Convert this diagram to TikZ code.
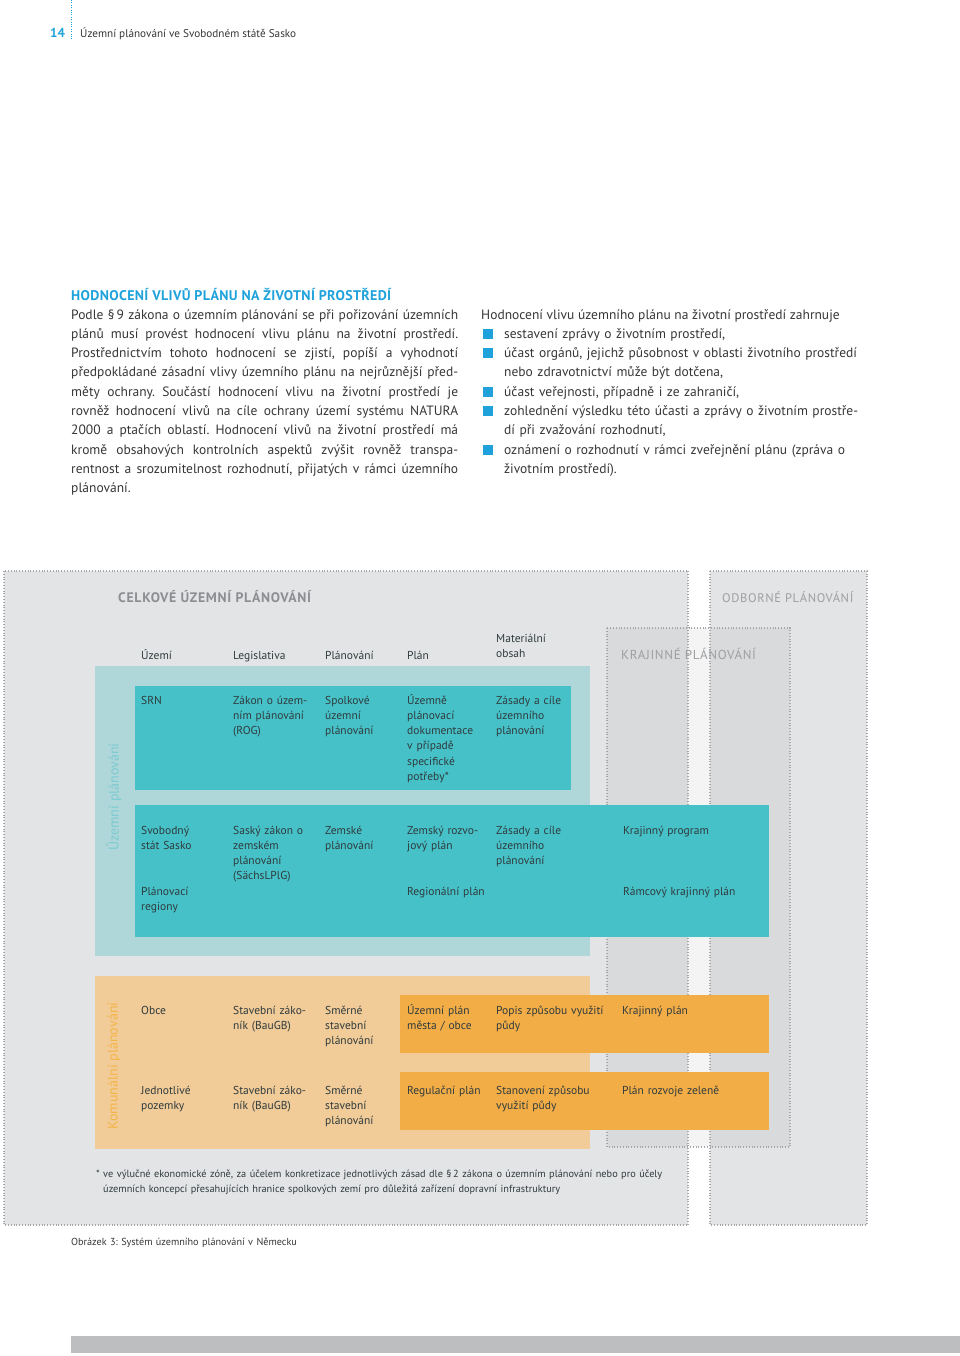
\documentclass[tikz,border=0pt]{standalone}
\usepackage{fontspec}
\setmainfont{PT Sans}
\frenchspacing
\definecolor{cyanhd}{HTML}{1FA2DB}
\definecolor{bodytxt}{HTML}{363636}
\definecolor{boxgrey}{HTML}{E3E4E6}
\definecolor{dotgrey}{HTML}{A5A7AA}
\definecolor{titlegrey}{HTML}{8C8E91}
\definecolor{tealpale}{HTML}{AFD6D8}
\definecolor{tealdark}{HTML}{47C1C8}
\definecolor{tealtxt}{HTML}{7CCBD2}
\definecolor{orpale}{HTML}{F1CB98}
\definecolor{ordark}{HTML}{F3AD47}
\definecolor{ortxt}{HTML}{F4B548}
\definecolor{celltxt}{HTML}{2F3B3D}
\definecolor{barbg}{HTML}{BCBEC0}
\tikzset{
  dotline/.style={draw=dotgrey, line width=1.1pt, dash pattern=on 0.9pt off 1.9pt},
  cell/.style={anchor=base west, text width=130pt, align=left, inner sep=0pt, text=celltxt,
    font=\fontsize{11.5}{15.3}\selectfont},
  bodytext/.style={anchor=base west, inner sep=0pt, text=bodytxt,
    font=\fontsize{13.5}{19.3}\selectfont},
  areatitle/.style={anchor=base west, inner sep=0pt, text=titlegrey,
    font=\fontsize{13}{15}\selectfont\addfontfeatures{LetterSpace=5}},
  sidelabel/.style={rotate=90, inner sep=0pt, font=\fontsize{14}{16}\selectfont}
}
\begin{document}
\begin{tikzpicture}[x=1pt,y=-1pt]
  \useasboundingbox (0,0) rectangle (960,1356);
  \draw[draw=cyanhd, line width=1pt, dash pattern=on 0.8pt off 1.6pt] (71,0) -- (71,40);
  \node[anchor=base west, inner sep=0pt, text=cyanhd, font=\fontsize{13}{15}\selectfont\bfseries] (pageno) at (50,38) {14};
  \node[anchor=base west, inner sep=0pt, text=bodytxt, font=\fontsize{11.2}{13}\selectfont] (running) at (80,38) {Územní plánování ve Svobodném státě Sasko};

  \node[anchor=base west, inner sep=0pt, text=cyanhd, font=\fontsize{14}{16}\selectfont\bfseries\addfontfeatures{LetterSpace=2.5}] (heading) at (71,300) {HODNOCENÍ VLIVŮ PLÁNU NA ŽIVOTNÍ PROSTŘEDÍ};
  \node[bodytext, text width=387pt, align=justify] (para) at (71,319) {\hyphenpenalty=10000\tolerance=10000\emergencystretch=0pt
    Podle §\,9 zákona o územním plánování se při pořizování územních\linebreak
    plánů musí provést hodnocení vlivu plánu na životní prostředí.\linebreak
    Prostřednictvím tohoto hodnocení se zjistí, popíší a vyhodnotí\linebreak
    předpokládané zásadní vlivy územního plánu na nejrůznější před-\linebreak
    měty ochrany. Součástí hodnocení vlivu na životní prostředí je\linebreak
    rovněž hodnocení vlivů na cíle ochrany území systému NATURA\linebreak
    2000 a ptačích oblastí. Hodnocení vlivů na životní prostředí má\linebreak
    kromě obsahových kontrolních aspektů zvýšit rovněž transpa-\linebreak
    rentnost a srozumitelnost rozhodnutí, přijatých v rámci územního\linebreak
    plánování.};

  \node[bodytext] (intro) at (481,319) {Hodnocení vlivu územního plánu na životní prostředí zahrnuje};
  \foreach \i/\yy in {1/334,2/353,3/392,4/411,5/450}
    \node[fill=cyanhd, minimum size=9.5pt, inner sep=0pt] (sq\i) at (488,\yy) {};
  \node[bodytext, text width=380pt, align=left] (item1) at (504,338) {sestavení zprávy o životním prostředí,};
  \node[bodytext, text width=380pt, align=left] (item2) at (504,357) {účast orgánů, jejichž působnost v oblasti životního prostředí\\nebo zdravotnictví může být dotčena,};
  \node[bodytext, text width=380pt, align=left] (item3) at (504,396) {účast veřejnosti, případně i ze zahraničí,};
  \node[bodytext, text width=380pt, align=left] (item4) at (504,415) {zohlednění výsledku této účasti a zprávy o životním prostře-\\dí při zvažování rozhodnutí,};
  \node[bodytext, text width=380pt, align=left] (item5) at (504,454) {oznámení o rozhodnutí v rámci zveřejnění plánu (zpráva o\\životním prostředí).};

  \fill[boxgrey] (4,571) rectangle (688,1225);
  \fill[boxgrey] (710,571) rectangle (867,1225);
  \fill[black, opacity=0.045] (607,628) rectangle (790,1147);
  \draw[dotline] (4,571) rectangle (688,1225);
  \draw[dotline] (710,571) rectangle (867,1225);
  \draw[dotline] (607,628) rectangle (790,1147);

  \node[areatitle, font=\fontsize{13.8}{15}\selectfont\bfseries\addfontfeatures{LetterSpace=5}] (celkove) at (118,602) {CELKOVÉ ÚZEMNÍ PLÁNOVÁNÍ};
  \node[areatitle, text=titlegrey!85, font=\fontsize{12.5}{15}\selectfont\addfontfeatures{LetterSpace=5}] (odborne) at (722,602) {ODBORNÉ PLÁNOVÁNÍ};
  \node[areatitle, text=titlegrey!85] (krajinne) at (621,659) {KRAJINNÉ PLÁNOVÁNÍ};

  \foreach \nm/\xx/\yy/\tx in {uzemi/141/659/Území, legis/233/659/Legislativa, planovani/325/659/Plánování, plan/407/659/Plán, obsah/496/642/{Materiální\\obsah}}
    \node[cell] (h-\nm) at (\xx,\yy) {\tx};

  \fill[tealpale] (95,666) rectangle (590,956);
  \fill[tealdark] (135,686) rectangle (571,790);
  \fill[tealdark] (135,805) rectangle (769,937);
  \node[sidelabel, text=tealtxt] (lbl-uzemni) at (114,797) {Územní plánování};

  \foreach \nm/\xx/\tx in {srn/141/SRN, rog/233/{Zákon o územ-\\ním plánování\\(ROG)},
      spolkove/325/{Spolkové\\územní\\plánování},
      dokumentace/407/{Územně\\plánovací\\dokumentace\\v případě\\specifické\\potřeby*},
      zasady1/496/{Zásady a cíle\\územního\\plánování}}
    \node[cell] (\nm) at (\xx,704) {\tx};
  \foreach \nm/\xx/\tx in {sasko/141/{Svobodný\\stát Sasko}, lplg/233/{Saský zákon o\\zemském\\plánování\\(SächsLPlG)},
      zemske/325/{Zemské\\plánování}, rozvoj/407/{Zemský rozvo-\\jový plán},
      zasady2/496/{Zásady a cíle\\územního\\plánování}, program/623/Krajinný program}
    \node[cell] (\nm) at (\xx,834) {\tx};
  \foreach \nm/\xx/\tx in {regiony/141/{Plánovací\\regiony}, regplan/407/Regionální plán, ramcovy/623/Rámcový krajinný plán}
    \node[cell] (\nm) at (\xx,895) {\tx};

  \fill[orpale] (95,976) rectangle (590,1149);
  \fill[ordark] (400,995) rectangle (769,1053);
  \fill[ordark] (400,1072) rectangle (769,1130);
  \node[sidelabel, text=ortxt] (lbl-komunal) at (114,1066) {Komunální plánování};

  \foreach \nm/\xx/\tx in {obce/141/Obce, baugb1/233/{Stavební záko-\\ník (BauGB)}, smerne1/325/{Směrné\\stavební\\plánování},
      uzplan/407/{Územní plán\\města / obce}, popis/496/{Popis způsobu využití\\půdy}, krajplan/622/Krajinný plán}
    \node[cell] (\nm) at (\xx,1014) {\tx};
  \foreach \nm/\xx/\tx in {pozemky/141/{Jednotlivé\\pozemky}, baugb2/233/{Stavební záko-\\ník (BauGB)}, smerne2/325/{Směrné\\stavební\\plánování},
      regulace/407/Regulační plán, stanoveni/496/{Stanovení způsobu\\využití půdy}, zelen/622/Plán rozvoje zeleně}
    \node[cell] (\nm) at (\xx,1094) {\tx};

  \node[cell, text width=640pt, font=\fontsize{10.3}{15}\selectfont] (footnote) at (96,1177) {* ve výlučné ekonomické zóně, za účelem konkretizace jednotlivých zásad dle §\,2 zákona o územním plánování nebo pro účely\\\hspace*{7pt}územních koncepcí přesahujících hranice spolkových zemí pro důležitá zařízení dopravní infrastruktury};
  \node[cell, text=bodytxt, font=\fontsize{10.2}{12}\selectfont] (caption) at (71,1245) {\mbox{Obrázek 3: Systém územního plánování v Německu}};

  \fill[barbg] (71,1336) rectangle (960,1353);
\end{tikzpicture}
\end{document}
